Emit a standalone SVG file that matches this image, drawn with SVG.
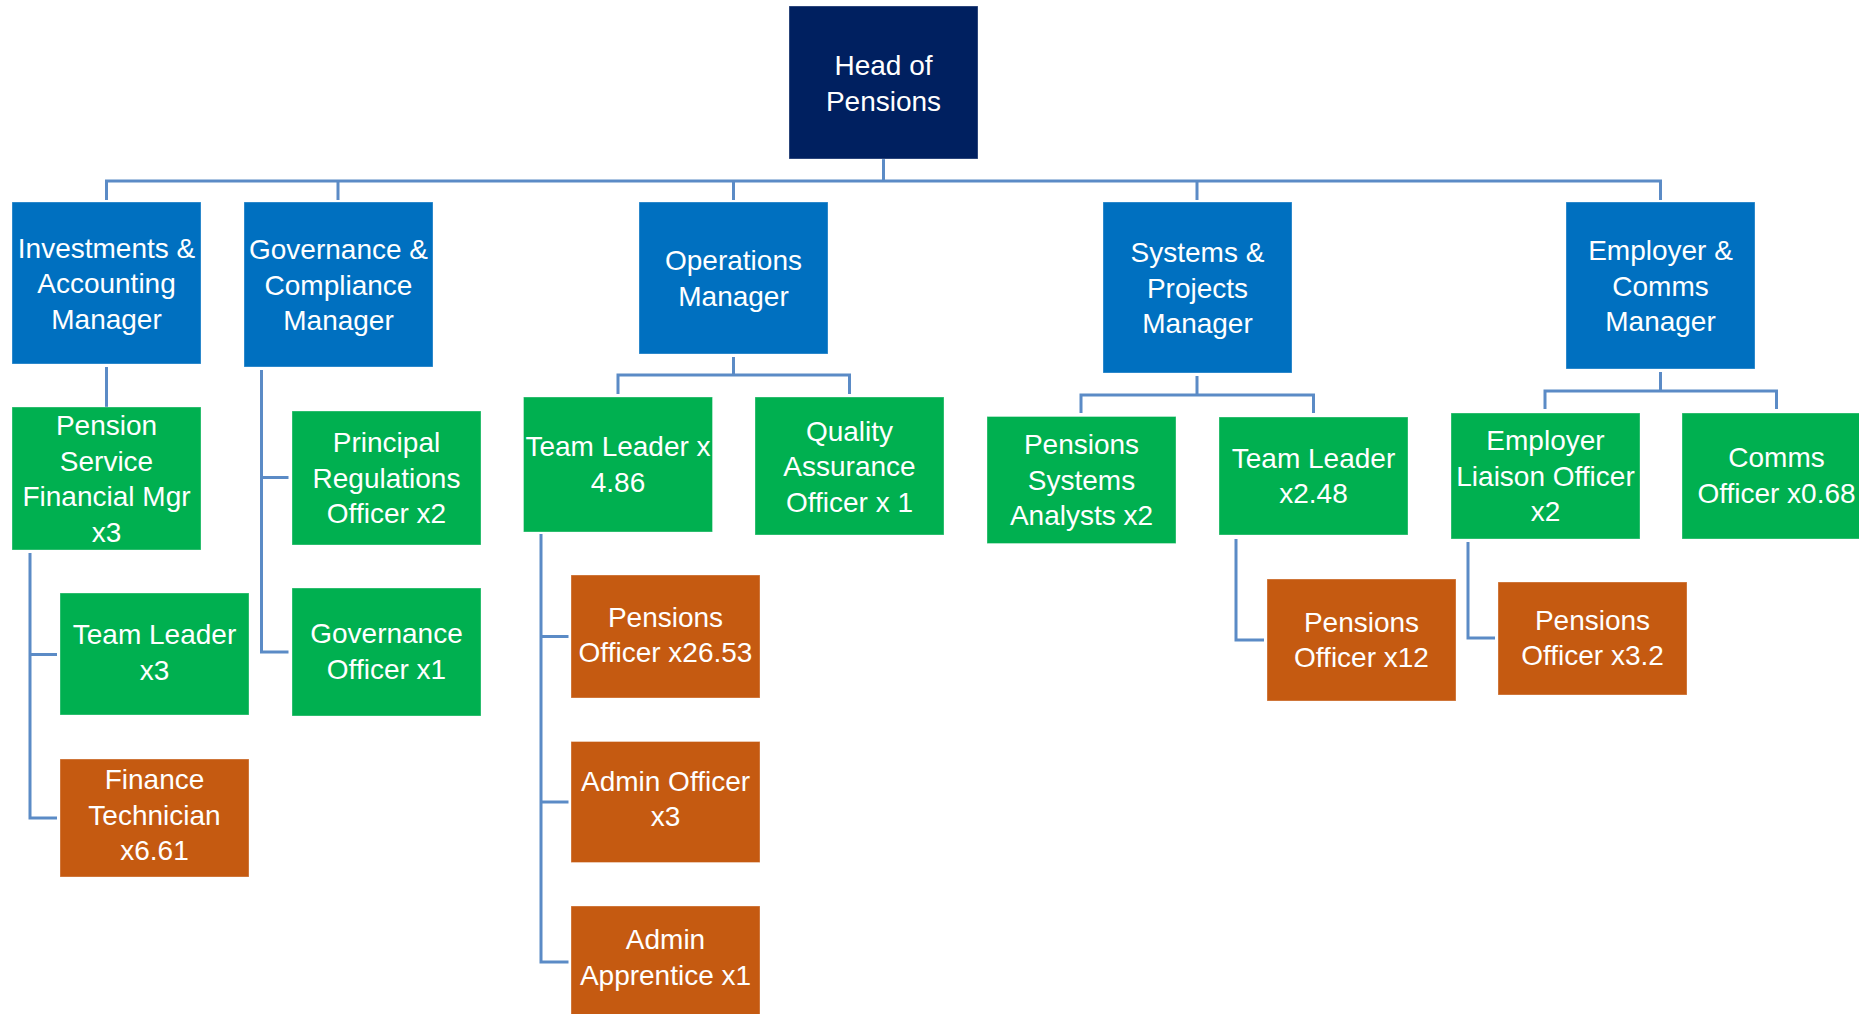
<svg xmlns="http://www.w3.org/2000/svg" width="1859" height="1014" viewBox="0 0 1859 1014">
<style>
.box{stroke:#ffffff;stroke-opacity:0.35;stroke-width:1}
.navy{fill:#002060}
.blue{fill:#0070C0}
.green{fill:#00B050}
.orange{fill:#C55A11}
text{font-family:"Liberation Sans",Arial,sans-serif;font-size:28px;fill:#ffffff;text-anchor:middle}
#connectors path{fill:none;stroke:#5B8BC6;stroke-width:3}
</style>
<rect width="1859" height="1014" fill="#ffffff"/>
<g id="connectors">
<path d="M883.5 159 V181"/>
<path d="M106.5 200 V181 H1660.5 V200"/>
<path d="M338 181 V200"/>
<path d="M733.5 181 V200"/>
<path d="M1197 181 V200"/>
<path d="M106.5 367 V407"/>
<path d="M30 553 V818 H57"/>
<path d="M30 654.5 H57"/>
<path d="M261.5 370 V652 H288.5"/>
<path d="M261.5 477.5 H288.5"/>
<path d="M733.5 357 V375"/>
<path d="M618 394 V375 H849.5 V394"/>
<path d="M541 534 V962 H568.5"/>
<path d="M541 636.5 H568.5"/>
<path d="M541 802 H568.5"/>
<path d="M1197 376 V395"/>
<path d="M1081 413 V395 H1313.5 V413"/>
<path d="M1236 539 V640 H1264"/>
<path d="M1660.5 372 V391"/>
<path d="M1545 409 V391 H1776.5 V409"/>
<path d="M1468 542 V638 H1495"/>
</g>
<g id="head"><rect class="box navy" x="789" y="6" width="189" height="153"/><text x="883.5" y="75">Head of</text><text x="883.5" y="110.5">Pensions</text></g>
<g id="inv"><rect class="box blue" x="12" y="202" width="189" height="162"/><text x="106.5" y="257.5">Investments &amp;</text><text x="106.5" y="293">Accounting</text><text x="106.5" y="328.5">Manager</text></g>
<g id="gov"><rect class="box blue" x="244" y="202" width="189" height="165"/><text x="338.5" y="259">Governance &amp;</text><text x="338.5" y="294.5">Compliance</text><text x="338.5" y="330">Manager</text></g>
<g id="ops"><rect class="box blue" x="639" y="202" width="189" height="152"/><text x="733.5" y="270">Operations</text><text x="733.5" y="305.5">Manager</text></g>
<g id="sys"><rect class="box blue" x="1103" y="202" width="189" height="171"/><text x="1197.5" y="262">Systems &amp;</text><text x="1197.5" y="297.5">Projects</text><text x="1197.5" y="333">Manager</text></g>
<g id="emp"><rect class="box blue" x="1566" y="202" width="189" height="167"/><text x="1660.5" y="260">Employer &amp;</text><text x="1660.5" y="295.5">Comms</text><text x="1660.5" y="331">Manager</text></g>
<g id="psfm"><rect class="box green" x="12" y="407" width="189" height="143"/><text x="106.5" y="435">Pension</text><text x="106.5" y="470.5">Service</text><text x="106.5" y="506">Financial Mgr</text><text x="106.5" y="541.5">x3</text></g>
<g id="tl3"><rect class="box green" x="60" y="593" width="189" height="122"/><text x="154.5" y="644">Team Leader</text><text x="154.5" y="679.5">x3</text></g>
<g id="fin"><rect class="box orange" x="60" y="759" width="189" height="118"/><text x="154.5" y="789">Finance</text><text x="154.5" y="824.5">Technician</text><text x="154.5" y="860">x6.61</text></g>
<g id="prin"><rect class="box green" x="292" y="411" width="189" height="134"/><text x="386.5" y="452">Principal</text><text x="386.5" y="487.5">Regulations</text><text x="386.5" y="523">Officer x2</text></g>
<g id="govoff"><rect class="box green" x="292" y="588" width="189" height="128"/><text x="386.5" y="643">Governance</text><text x="386.5" y="678.5">Officer x1</text></g>
<g id="tl486"><rect class="box green" x="523.5" y="397" width="189" height="135"/><text x="618" y="456">Team Leader x</text><text x="618" y="491.5">4.86</text></g>
<g id="qa"><rect class="box green" x="755" y="397" width="189" height="138"/><text x="849.5" y="440.5">Quality</text><text x="849.5" y="476">Assurance</text><text x="849.5" y="511.5">Officer x 1</text></g>
<g id="po2653"><rect class="box orange" x="571" y="575" width="189" height="123"/><text x="665.5" y="626.5">Pensions</text><text x="665.5" y="662">Officer x26.53</text></g>
<g id="admoff"><rect class="box orange" x="571" y="741.5" width="189" height="121"/><text x="665.5" y="790.5">Admin Officer</text><text x="665.5" y="826">x3</text></g>
<g id="admapp"><rect class="box orange" x="571" y="906" width="189" height="120"/><text x="665.5" y="949">Admin</text><text x="665.5" y="984.5">Apprentice x1</text></g>
<g id="psa"><rect class="box green" x="987" y="416.5" width="189" height="127"/><text x="1081.5" y="454">Pensions</text><text x="1081.5" y="489.5">Systems</text><text x="1081.5" y="525">Analysts x2</text></g>
<g id="tl248"><rect class="box green" x="1219" y="417" width="189" height="118"/><text x="1313.5" y="467.5">Team Leader</text><text x="1313.5" y="503">x2.48</text></g>
<g id="po12"><rect class="box orange" x="1267" y="579" width="189" height="122"/><text x="1361.5" y="631.5">Pensions</text><text x="1361.5" y="667">Officer x12</text></g>
<g id="elo"><rect class="box green" x="1451" y="413" width="189" height="126"/><text x="1545.5" y="450">Employer</text><text x="1545.5" y="485.5">Liaison Officer</text><text x="1545.5" y="521">x2</text></g>
<g id="comms"><rect class="box green" x="1682" y="413" width="189" height="126"/><text x="1776.5" y="467">Comms</text><text x="1776.5" y="502.5">Officer x0.68</text></g>
<g id="po32"><rect class="box orange" x="1498" y="582" width="189" height="113"/><text x="1592.5" y="629.5">Pensions</text><text x="1592.5" y="665">Officer x3.2</text></g>
</svg>
